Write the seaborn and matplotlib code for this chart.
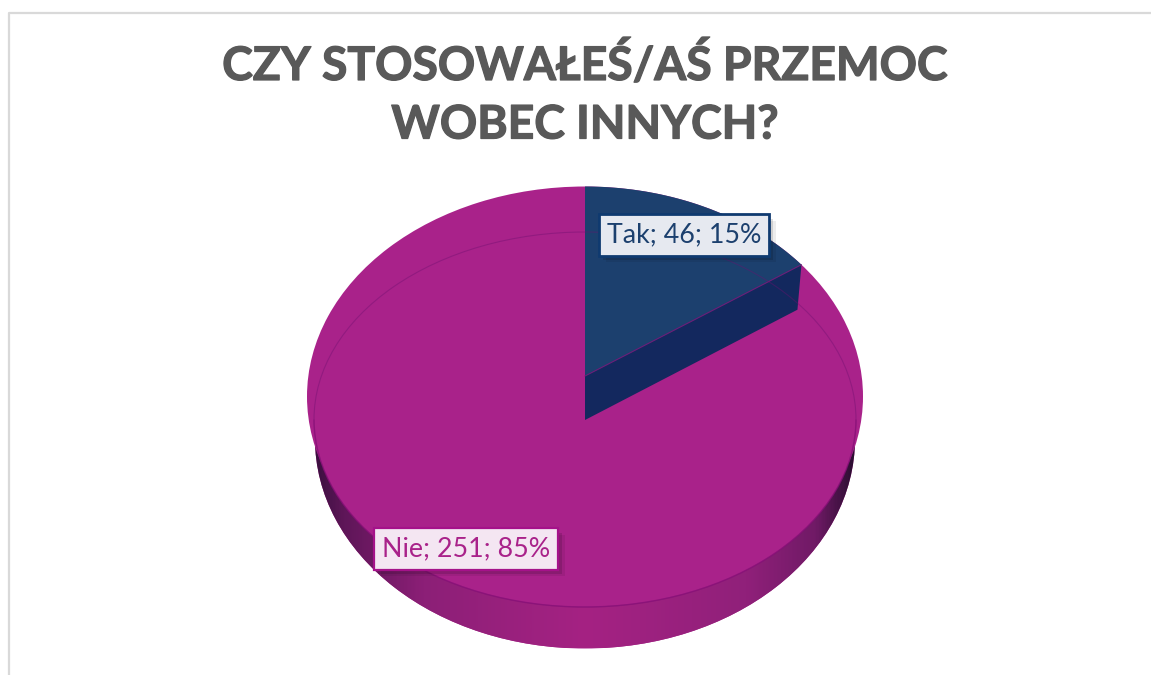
import numpy as np
import matplotlib
matplotlib.use("Agg")
import matplotlib.pyplot as plt
import matplotlib.patheffects as pe
from matplotlib.colors import LinearSegmentedColormap
from matplotlib.patches import Arc, Ellipse
from matplotlib.path import Path
import seaborn as sns

categories = ["Tak", "Nie"]
counts = [46, 251]
percent_labels = ["15%", "85%"]
title_lines = ["CZY STOSOWAŁEŚ/AŚ PRZEMOC", "WOBEC INNYCH?"]

W, H = 1151, 675
sns.set_theme(style="white")
plt.rcParams["font.family"] = ["Lato", "DejaVu Sans"]
palette = sns.color_palette(["#1C406E", "#A9228A"])
blue_side = "#13285E"
NOEDGE = dict(linewidth=0, edgecolor="none")

fig = plt.figure(figsize=(W / 100, H / 100), dpi=100, facecolor="white")


def fit(a, cx, cy, rx, ry):
    """Make the unit circle of axes a the ellipse (cx, cy, rx, ry) in pixels."""
    a.set_aspect("auto")
    a.set_xlim((0 - cx) / rx, (W - cx) / rx)
    a.set_ylim((cy - H) / ry, cy / ry)
    a.axis("off")


def new_axes(z):
    a = fig.add_axes([0, 0, 1, 1], zorder=z)
    a.patch.set_alpha(0)
    return a


# side wall, shaded towards both ends
WALL = (585, 439, 270, 209.5)
ax_wall = new_axes(1)
ax_wall.pie([sum(counts)], radius=1, colors=[palette[1]], frame=True, wedgeprops=NOEDGE)
shade = LinearSegmentedColormap.from_list(
    "wall",
    [(0.0, "#3C1040"), (0.05, "#5E1658"), (0.2, "#8C1F77"), (0.5, "#A52283"),
     (0.8, "#90207A"), (0.93, "#701A66"), (1.0, "#2C0E32")],
)
im = ax_wall.imshow(np.linspace(0, 1, 400)[None, :], cmap=shade, aspect="auto",
                    extent=(-1, 1, -1, 1), zorder=3)
im.set_clip_path(Path.unit_circle(), ax_wall.transData)
fit(ax_wall, *WALL)

# front part of the top face (bevel ellipse)
FRONT = (585, 419.5, 271, 187.5)
ax_front = new_axes(2)
ax_front.pie([sum(counts)], radius=1, colors=[palette[1]], frame=True, wedgeprops=NOEDGE)
fit(ax_front, *FRONT)

# top face
FACE = (585, 396.5, 278, 210)
ax_top = new_axes(3)
ax_top.pie([sum(counts)], radius=1, colors=[palette[1]], frame=True, wedgeprops=NOEDGE)
fit(ax_top, *FACE)

# Tak slice: apex sits above the face centre, rim follows the face outline
apex_y = (FACE[1] - 376) / FACE[3]
ang = 2 * np.pi * counts[0] / sum(counts)
dx, dy = np.sin(ang), np.cos(ang)
b = apex_y * dy
t = -b + np.sqrt(b * b - (apex_y ** 2 - 1))
rim = np.array([t * dx, apex_y + t * dy])
rim_ang = np.arctan2(rim[0], rim[1])
arc_ang = np.linspace(0, rim_ang, 80)
ax_top.fill(np.r_[0, np.sin(arc_ang)], np.r_[apex_y, np.cos(arc_ang)],
            color=palette[0], lw=0, zorder=4)

# cut wall of the Tak slice
depth_a, depth_r = 44 / FACE[3], 45 / FACE[3]
ax_top.fill([0, rim[0], rim[0] - 4 / FACE[2], 0],
            [apex_y, rim[1], rim[1] - depth_r, apex_y - depth_a],
            color=blue_side, lw=0, zorder=5)
ax_top.plot([0, rim[0]], [apex_y, rim[1]], color="#6A1F78", lw=0.8, zorder=6)

# bevel ring
ring_c = (0, (FACE[1] - FRONT[1]) / FACE[3])
ring_w, ring_h = 2 * FRONT[2] / FACE[2], 2 * FRONT[3] / FACE[3]
ax_top.add_patch(Ellipse(ring_c, ring_w, ring_h, fill=False, ec="#6E1070", lw=0.8, alpha=0.4, zorder=7))
ax_top.add_patch(Arc(ring_c, ring_w, ring_h, theta1=180, theta2=360, ec="#8A0F78", lw=1.0, alpha=0.6, zorder=7))
fit(ax_top, *FACE)

# overlay for frame and text, in pixels
ov = new_axes(10)
ov.set_xlim(0, W)
ov.set_ylim(H, 0)
ov.axis("off")
ov.plot([9.5, 9.5, W], [H, 12.5, 12.5], color="#D9D9D9", lw=1.6, solid_capstyle="butt")

heavy = [pe.withStroke(linewidth=0.9, foreground="#595959")]
ov.text(585, 80, title_lines[0], ha="center", va="baseline", fontsize=33.3, fontweight="bold",
        color="#595959", path_effects=heavy)
ov.text(585, 138.5, title_lines[1], ha="center", va="baseline", fontsize=33.3, fontweight="bold",
        color="#595959", path_effects=heavy)


def label(x, y, i, fc, ec, tc, lw):
    s = f"{categories[i]}; {counts[i]}; {percent_labels[i]}"
    t = ov.text(x, y, s, ha="center", va="center", fontsize=19.3, color=tc,
                bbox=dict(boxstyle="square,pad=0.3", fc=fc, ec=ec, lw=lw))
    t.get_bbox_patch().set_path_effects(
        [pe.SimplePatchShadow(offset=(5, -5), shadow_rgbFace="#000000", alpha=0.07),
         pe.SimplePatchShadow(offset=(3, -3), shadow_rgbFace="#000000", alpha=0.12),
         pe.Normal()])


label(684, 235, 0, "#E6E9F0", "#0F3A70", "#1C406E", 2)
label(466, 549, 1, "#F4E6F2", "#A5128A", "#A9228A", 1.6)

fig.savefig("out.png", dpi=100)
